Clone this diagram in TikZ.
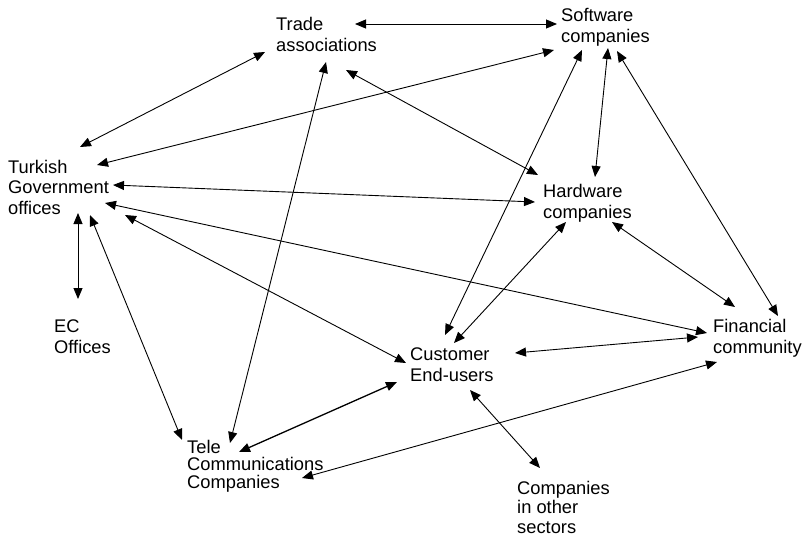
\documentclass[tikz,border=0pt]{standalone}
\usepackage{fontspec}
\setmainfont{Liberation Sans}
\usetikzlibrary{arrows.meta}
\tikzset{
  lbl/.style={anchor=base west, inner sep=0pt, align=left, font=\fontsize{18.3}{20.5}\selectfont},
  link/.style={{Triangle[length=11pt,width=9pt]}-{Triangle[length=11pt,width=9pt]}, line width=0.9pt},
  thicklink/.style={link, line width=1.3pt}
}
\begin{document}
\begin{tikzpicture}[x=1pt,y=-1pt]
\useasboundingbox (0,0) rectangle (802,541);
% labels (anchored at the baseline of their last line)
\node[lbl] (trade) at (276,51) {Trade\\associations};
\node[lbl] (soft) at (561,42) {Software\\companies};
\node[lbl] (turk) at (8,214) {Turkish\\Government\\offices};
\node[lbl] (hard) at (543,218) {Hardware\\companies};
\node[lbl] (cust) at (410,381) {Customer\\End-users};
\node[lbl, font=\fontsize{18.3}{17.5}\selectfont] (tele) at (187,488) {Tele\\Communications\\Companies};
\node[lbl] (fin) at (713,353) {Financial\\community};
\node[lbl] (ec) at (54,353) {EC\\Offices};
\node[lbl, font=\fontsize{18.3}{19.5}\selectfont] (comp) at (517,533) {Companies\\in other\\sectors};
% connector ends
\coordinate (trA) at (355,24); \coordinate (swA) at (557,24);
\coordinate (trB) at (265,52); \coordinate (tuA) at (80,147);
\coordinate (swB) at (554,50); \coordinate (tuB) at (97,165);
\coordinate (tuC) at (113,185); \coordinate (hwA) at (535,202);
\coordinate (tuD) at (105,203); \coordinate (fiA) at (707,333);
\coordinate (tuE) at (125,215); \coordinate (cuA) at (406,363);
\coordinate (tuF) at (78,213); \coordinate (ecA) at (78,299);
\coordinate (tuG) at (90,215); \coordinate (teA) at (182,440);
\coordinate (trC) at (326,62); \coordinate (teB) at (230,443);
\coordinate (trD) at (346,70); \coordinate (hwB) at (538,175);
\coordinate (swC) at (582,50); \coordinate (cuB) at (445,335);
\coordinate (swD) at (608,48); \coordinate (hwC) at (595,177);
\coordinate (swE) at (617,51); \coordinate (fiB) at (778,316);
\coordinate (hwD) at (566,222); \coordinate (cuC) at (454,343);
\coordinate (hwE) at (612,222); \coordinate (fiC) at (735,307);
\coordinate (cuD) at (515,353); \coordinate (fiD) at (698,337);
\coordinate (cuE) at (397,382); \coordinate (teC) at (239,452);
\coordinate (cuF) at (470,390); \coordinate (coA) at (540,468);
\coordinate (teD) at (302,478); \coordinate (fiE) at (717,362);
% connectors
\draw[link] (trA) -- (swA);
\draw[link] (trB) -- (tuA);
\draw[link] (swB) -- (tuB);
\draw[link] (tuC) -- (hwA);
\draw[link] (tuD) -- (fiA);
\draw[link] (tuE) -- (cuA);
\draw[link] (tuF) -- (ecA);
\draw[link] (tuG) -- (teA);
\draw[link] (trC) -- (teB);
\draw[link] (trD) -- (hwB);
\draw[link] (swC) -- (cuB);
\draw[link] (swD) -- (hwC);
\draw[link] (swE) -- (fiB);
\draw[link] (hwD) -- (cuC);
\draw[link] (hwE) -- (fiC);
\draw[link] (cuD) -- (fiD);
\draw[thicklink] (cuE) -- (teC);
\draw[link] (cuF) -- (coA);
\draw[link] (teD) -- (fiE);
\end{tikzpicture}
\end{document}
